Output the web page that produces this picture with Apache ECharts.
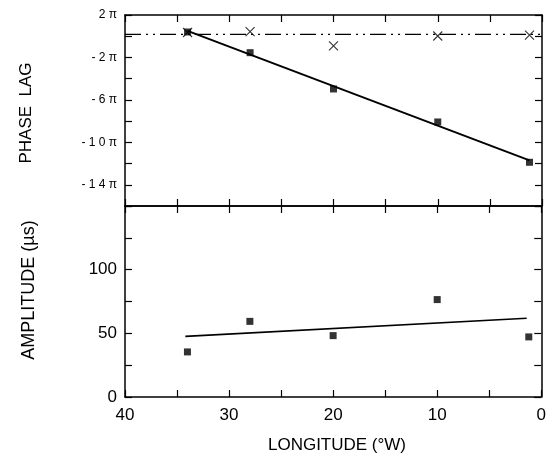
<!DOCTYPE html>
<html>
<head>
<meta charset="utf-8">
<script src="https://cdn.jsdelivr.net/npm/echarts@6/dist/echarts.min.js"></script>
<style>
html, body { margin: 0; padding: 0; background: #fff; }
#chart { width: 549px; height: 455px; }
</style>
</head>
<body>
<div id="chart"></div>
<script>
// longitude in deg W, phase in units of pi, amplitude in microseconds
var stationLon = [34, 28, 20, 10, 1.2];
var phaseSquare = [0.4, -1.55, -4.97, -8.08, -11.88];
var phaseCross = [0.35, 0.43, -0.92, 0.02, 0.11];
var phaseFitLon = [34, 1.2];
var phaseFit = [0.5, -11.7];
var refLineLon = [40, 0];
var refLine = [0.18, 0.18];
var ampSquare = [35.4, 59.4, 48.2, 76.5, 47.2];
var ampFitLon = [34.2, 1.4];
var ampFit = [47.6, 61.8];

// tick labels
var lonTicks = [40, 30, 20, 10, 0];
var phaseTickValues = [2, -2, -6, -10, -14];
var phaseTickLabels = ['2 π', '- 2 π', '- 6 π', '- 1 0 π', '- 1 4 π'];
var ampTicks = [0, 50, 100];

var FONT = "'Liberation Sans', Arial, sans-serif";

function pairs(xs, ys) {
  return xs.map(function (x, i) { return [x, ys[i]]; });
}

var line = { show: true, onZero: false, lineStyle: { color: '#000', width: 1.5 } };
var tick = { show: true, inside: true, length: 7, lineStyle: { color: '#000', width: 1.2 } };

function lonAxis(grid, pos, labels) {
  return {
    type: 'value', gridIndex: grid, position: pos,
    min: 0, max: 40, interval: 5, inverse: true,
    axisLine: line, axisTick: tick, splitLine: { show: false },
    axisLabel: {
      show: labels, margin: 10, color: '#000', fontSize: 17, fontFamily: FONT,
      showMinLabel: true, showMaxLabel: true,
      formatter: function (v) { return lonTicks.indexOf(v) >= 0 ? String(v) : ''; }
    }
  };
}

function sideAxis(grid, pos, min, max, step, label) {
  return {
    type: 'value', gridIndex: grid, position: pos,
    min: min, max: max, interval: step,
    axisLine: line, axisTick: tick, splitLine: { show: false },
    axisLabel: label || { show: false }
  };
}

var chart = echarts.init(document.getElementById('chart'));
chart.setOption({
  backgroundColor: '#fff',
  animation: false,
  grid: [
    { left: 125, right: 7, top: 15, height: 191 },
    { left: 125, right: 7, top: 206, height: 191 }
  ],
  xAxis: [
    lonAxis(0, 'bottom', false),
    lonAxis(0, 'top', false),
    lonAxis(1, 'bottom', true),
    lonAxis(1, 'top', false)
  ],
  yAxis: [
    sideAxis(0, 'left', -16, 2, 2, {
      margin: 8, color: '#000', fontSize: 12, fontFamily: FONT,
      showMinLabel: true, showMaxLabel: true,
      formatter: function (v) {
        var i = phaseTickValues.indexOf(v);
        return i >= 0 ? phaseTickLabels[i] : '';
      }
    }),
    sideAxis(0, 'right', -16, 2, 2),
    sideAxis(1, 'left', 0, 150, 25, {
      margin: 8, color: '#000', fontSize: 17, fontFamily: FONT,
      showMinLabel: true, showMaxLabel: true,
      formatter: function (v) { return ampTicks.indexOf(v) >= 0 ? String(v) : ''; }
    }),
    sideAxis(1, 'right', 0, 150, 25)
  ],
  graphic: [
    {
      type: 'text', x: 26, y: 113, rotation: Math.PI / 2,
      style: { text: 'PHASE  LAG', font: '17px ' + FONT, fill: '#000', align: 'center', verticalAlign: 'middle' }
    },
    {
      type: 'text', x: 29, y: 290, rotation: Math.PI / 2,
      style: { text: 'AMPLITUDE (µs)', font: '18px ' + FONT, fill: '#000', align: 'center', verticalAlign: 'middle' }
    },
    {
      type: 'text', x: 337, y: 445,
      style: { text: 'LONGITUDE (°W)', font: '17px ' + FONT, fill: '#000', align: 'center', verticalAlign: 'middle' }
    }
  ],
  series: [
    {
      name: 'reference', type: 'line', xAxisIndex: 0, yAxisIndex: 0,
      data: pairs(refLineLon, refLine), symbol: 'none',
      lineStyle: { color: '#000', width: 1.3, type: [16, 5, 2, 5, 2, 5] }
    },
    {
      name: 'phase fit', type: 'line', xAxisIndex: 0, yAxisIndex: 0,
      data: pairs(phaseFitLon, phaseFit), symbol: 'none',
      lineStyle: { color: '#000', width: 2 }
    },
    {
      name: 'phase cross', type: 'scatter', xAxisIndex: 0, yAxisIndex: 0,
      data: pairs(stationLon, phaseCross),
      symbol: 'path://M0,0L10,10M10,0L0,10', symbolSize: 9,
      itemStyle: { color: 'rgba(0,0,0,0)', borderColor: '#000', borderWidth: 1.1 }
    },
    {
      name: 'phase', type: 'scatter', xAxisIndex: 0, yAxisIndex: 0,
      data: pairs(stationLon, phaseSquare),
      symbol: 'rect', symbolSize: 7, itemStyle: { color: '#000' }
    },
    {
      name: 'amplitude fit', type: 'line', xAxisIndex: 2, yAxisIndex: 2,
      data: pairs(ampFitLon, ampFit), symbol: 'none',
      lineStyle: { color: '#000', width: 1.6 }
    },
    {
      name: 'amplitude', type: 'scatter', xAxisIndex: 2, yAxisIndex: 2,
      data: pairs(stationLon, ampSquare),
      symbol: 'rect', symbolSize: 7, itemStyle: { color: '#000' }
    }
  ]
});
</script>
</body>
</html>
